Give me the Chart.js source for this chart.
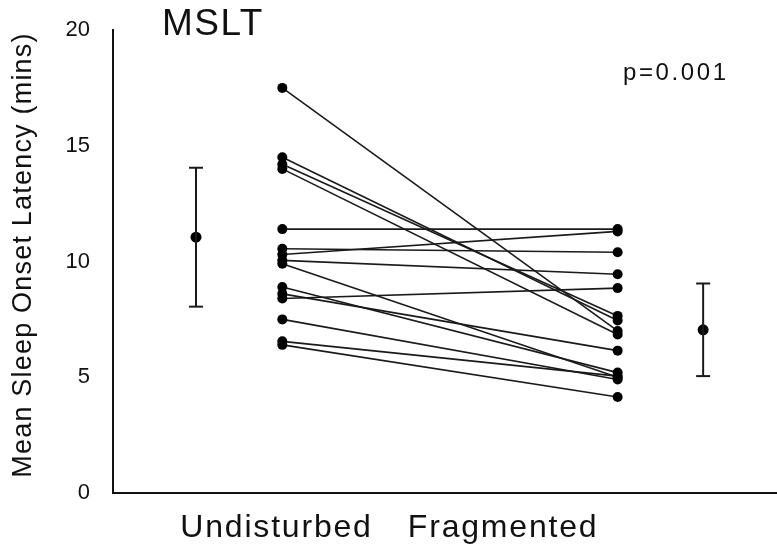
<!DOCTYPE html>
<html>
<head>
<meta charset="utf-8">
<script src="https://cdn.jsdelivr.net/npm/chart.js@4"></script>
<style>
    body { margin: 0; background: #fff; }
</style>
</head>
<body>
<canvas id="msltChart" width="777" height="549"></canvas>
<script>
// MSLT per subject, undisturbed vs fragmented sleep (minutes)
const groups = ['Undisturbed', 'Fragmented'];
const undisturbed = [17.5, 14.5, 14.2, 14.0, 11.4, 10.55, 10.3, 10.05, 9.9, 8.9, 8.6, 8.4, 7.5, 6.55, 6.4];
const fragmented = [7.0, 7.45, 7.65, 6.85, 11.4, 10.4, 11.3, 9.45, 5.0, 5.2, 6.15, 8.85, 4.9, 5.05, 4.15];
const groupMeans = [11.05, 7.05];
const groupLow = [8.05, 5.05];
const groupHigh = [14.05, 9.05];
const yTicks = [0, 5, 10, 15, 20];
const panelTitle = 'MSLT';
const pValueText = 'p=0.001';
const yTitle = 'Mean Sleep Onset Latency (mins)';

// horizontal placement on a 0..8 linear axis
const subjectX = [2.04, 6.08];
const meanX = [1.0, 7.11];
const groupLabelX = [1.97, 4.7];

Chart.defaults.font.family = '"Liberation Sans", Arial, Helvetica, sans-serif';
Chart.defaults.color = '#111';

const datasets = [];

// one line per subject
undisturbed.forEach((u, i) => {
    datasets.push({
        type: 'line',
        data: [{x: subjectX[0], y: u}, {x: subjectX[1], y: fragmented[i]}],
        borderColor: '#1a1a1a',
        borderWidth: 1.6,
        pointRadius: 5,
        pointBackgroundColor: '#000',
        pointBorderWidth: 0,
        showLine: true
    });
});

// mean with error bars for each group
groupMeans.forEach((m, i) => {
    datasets.push({
        type: 'line',
        data: [{x: meanX[i], y: groupLow[i]}, {x: meanX[i], y: groupHigh[i]}],
        borderColor: '#1a1a1a',
        borderWidth: 2,
        pointStyle: 'line',
        pointRadius: 7,
        pointBorderColor: '#1a1a1a',
        pointBorderWidth: 2,
        showLine: true
    });
    datasets.push({
        type: 'scatter',
        data: [{x: meanX[i], y: m}],
        pointRadius: 5.5,
        pointBackgroundColor: '#000',
        pointBorderWidth: 0
    });
});

// text drawn by hand so it can use letter spacing
const textPlugin = {
    id: 'textLabels',
    afterDraw(chart) {
        const ctx = chart.ctx;
        const x = chart.scales.x;
        ctx.save();
        ctx.fillStyle = '#111';
        ctx.textBaseline = 'alphabetic';

        ctx.font = '32px "Liberation Sans", Arial, sans-serif';
        ctx.letterSpacing = '1.8px';
        ctx.textAlign = 'center';
        groups.forEach((g, i) => {
            ctx.fillText(g, x.getPixelForValue(groupLabelX[i]), 537);
        });

        ctx.font = '37px "Liberation Sans", Arial, sans-serif';
        ctx.letterSpacing = '1.5px';
        ctx.textAlign = 'left';
        ctx.fillText(panelTitle, 162, 35);

        ctx.font = '24px "Liberation Sans", Arial, sans-serif';
        ctx.letterSpacing = '2.6px';
        ctx.fillText(pValueText, 623, 80);

        ctx.translate(31, 255);
        ctx.rotate(-Math.PI / 2);
        ctx.font = '27px "Liberation Sans", Arial, sans-serif';
        ctx.letterSpacing = '1.2px';
        ctx.textAlign = 'center';
        ctx.fillText(yTitle, 0, 0);
        ctx.restore();
        ctx.letterSpacing = '0px';
    }
};

const ctx = document.getElementById('msltChart').getContext('2d');
new Chart(ctx, {
    data: { datasets: datasets },
    plugins: [textPlugin],
    options: {
        responsive: false,
        animation: false,
        clip: false,
        layout: { autoPadding: false, padding: { top: 30, right: 0, left: 0, bottom: 0 } },
        plugins: {
            legend: { display: false },
            tooltip: { enabled: false }
        },
        scales: {
            x: {
                type: 'linear',
                min: 0,
                max: 8,
                grid: { display: false },
                border: { display: true, color: '#111', width: 2 },
                ticks: { display: false },
                afterFit: s => { s.height = 56; }
            },
            y: {
                type: 'linear',
                min: 0,
                max: 20,
                grid: { display: false },
                border: { display: true, color: '#111', width: 2 },
                afterBuildTicks: s => { s.ticks = yTicks.map(v => ({value: v})); },
                ticks: {
                    padding: 15,
                    font: { size: 22 },
                    color: '#111'
                },
                afterFit: s => { s.width = 113; }
            }
        }
    }
});
</script>
</body>
</html>
